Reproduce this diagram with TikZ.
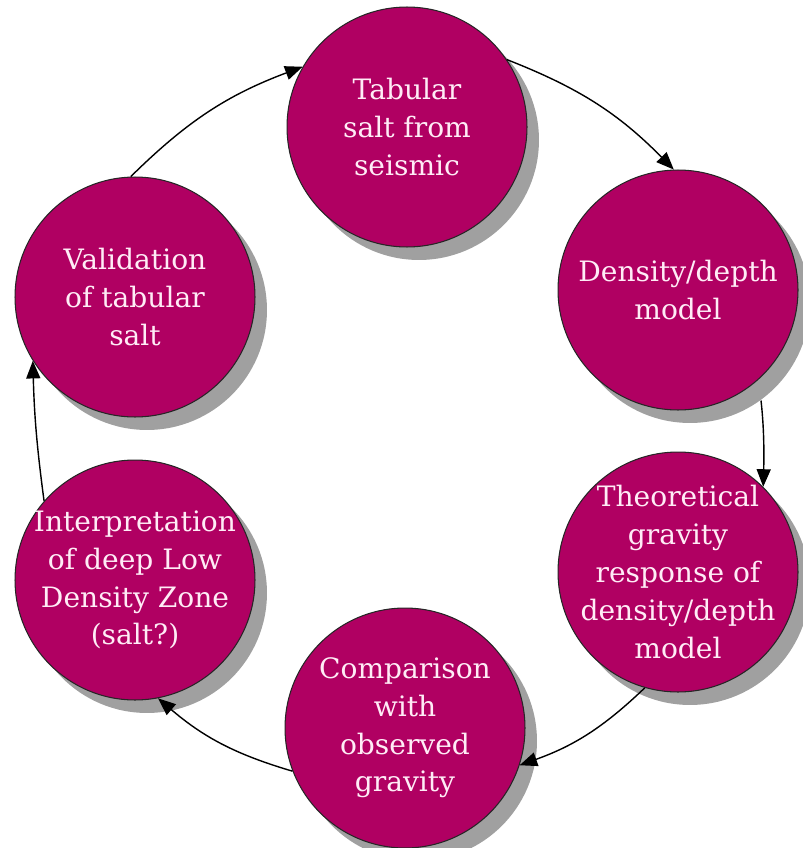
\documentclass[tikz,border=0pt]{standalone}
\usepackage{fontspec}
\setmainfont{DejaVu Serif}
\usepackage{tikz}
\usetikzlibrary{shadows,arrows.meta}
\definecolor{salmag}{RGB}{176,0,98}
\definecolor{sombra}{RGB}{160,160,160}
\definecolor{texto}{RGB}{255,236,246}

\begin{document}
\begin{tikzpicture}[x=0.02cm,y=0.02cm,
    etapa/.style={circle,draw=black!85,line width=0.6pt,fill=salmag,minimum size=4.8cm,inner sep=-0.6cm,
        align=center,text=texto,font=\fontsize{16}{21.5}\selectfont,
        drop shadow={shadow xshift=0.24cm,shadow yshift=-0.26cm,fill=sombra,opacity=1}},
    flecha/.style={-{Triangle[length=10pt,width=8pt]},line width=0.8pt,bend left=12}]
        \useasboundingbox (0,0) rectangle (803,-848);
        % Círculos del ciclo
            \node[etapa] (tab) at (407,-127) {Tabular\\salt from\\seismic};
            \node[etapa] (dens) at (678,-290) {Density/depth\\model};
            \node[etapa] (theo) at (678,-572) {Theoretical\\gravity\\response of\\density/depth\\model};
            \node[etapa] (comp) at (405,-728) {Comparison\\with\\observed\\gravity};
            \node[etapa] (interp) at (135,-580) {Interpretation\\of deep Low\\Density Zone\\(salt?)};
            \node[etapa] (val) at (135,-297) {Validation\\of tabular\\salt};

            % Conectores
            \draw[flecha] (tab.34) to (dens.92);
            \draw[flecha,bend left=4,shorten <=12pt] (dens.-48) to (theo.45);
            \draw[flecha] (theo.-106) to (comp.-18);
            \draw[flecha] (comp.-159) to (interp.-79);
            \draw[flecha,bend left=3] (interp.139) to (val.-148);
            \draw[flecha] (val.92) to (tab.150);
        \end{tikzpicture}
\end{document}
